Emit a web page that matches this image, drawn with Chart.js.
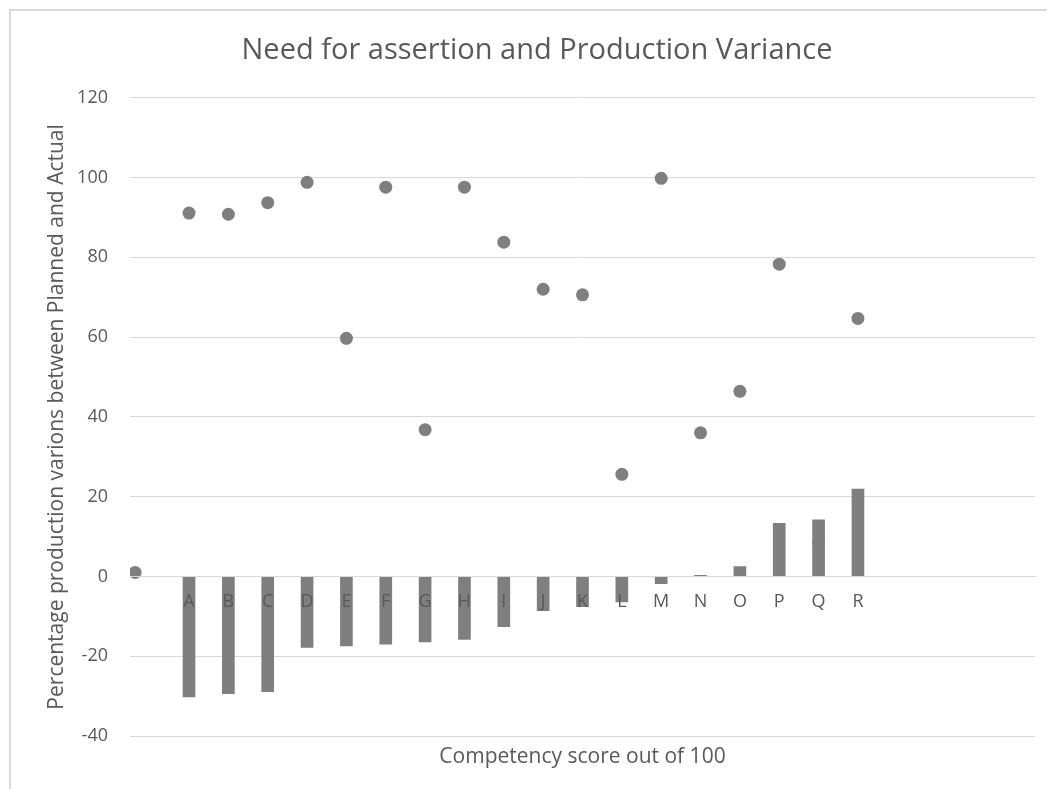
<!DOCTYPE html>
<html>
<head>
<meta charset="utf-8">
<script src="https://cdn.jsdelivr.net/npm/chart.js@4.4.1/dist/chart.umd.min.js"></script>
<style>
  html, body { margin: 0; padding: 0; background: #fff; overflow: hidden; }
  #frame {
    position: absolute; left: 9px; top: 9px; width: 1060px; height: 800px;
    border-left: 2px solid #d9d9d9; border-top: 2px solid #d9d9d9;
  }
  #wrap { position: absolute; left: 10px; top: 10px; width: 1054px; height: 779px; }
</style>
</head>
<body>
<div id="frame"></div>
<div id="wrap"><canvas id="chart"></canvas></div>
<script>
// categories on the axis (first and last slots are empty, as in the Excel sheet)
const categories = ["", "A", "B", "C", "D", "E", "F", "G", "H", "I", "J", "K", "L", "M", "N", "O", "P", "Q", "R", "", "", "", ""]

// production variance (bars), one per category
const variance = [null, -30.2, -29.4, -28.9, -17.8, -17.4, -17.0, -16.4, -15.8, -12.6, -8.6, -7.6, -6.4, -1.8, 0.3, 2.5, 13.3, 14.2, 21.9, null, null, null, null]

// need for assertion / competency score (dots), x in category slots
const assertionX = [-0.37, 1, 2, 3, 4, 5, 6, 7, 8, 9, 10, 11, 12, 13, 14, 15, 16, 17, 18]
const assertionY = [1, 91.1, 90.8, 93.7, 98.8, 59.7, 97.6, 36.8, 97.6, 83.8, 72.0, 70.6, 25.6, 99.8, 36.0, 46.4, 78.3, 8.5, 64.7]

const yTicks = { min: -40, max: 120, step: 20 }

const textColor = "#595959"
const gridColor = "#d9d9d9"
const markColor = "#7f7f7f"
const font = "Open Sans"

new Chart(document.getElementById("chart"), {
  type: "bar",
  data: {
    labels: categories,
    datasets: [
      {
        type: "bar",
        data: variance,
        backgroundColor: markColor,
        barThickness: 12,
        grouped: false,
        order: 0,
        xAxisID: "x",
        yAxisID: "y"
      },
      {
        type: "scatter",
        data: assertionX.map((x, i) => ({ x, y: assertionY[i] })),
        backgroundColor: markColor,
        borderWidth: 0,
        pointRadius: 6.5,
        showLine: false,
        order: 1,
        xAxisID: "x2",
        yAxisID: "y"
      }
    ]
  },
  options: {
    responsive: true,
    maintainAspectRatio: false,
    animation: false,
    layout: { padding: { left: 29, right: 29, top: 0, bottom: 0 } },
    plugins: {
      legend: { display: false },
      tooltip: { enabled: false },
      title: {
        display: true,
        text: "Need for assertion and Production Variance",
        color: textColor,
        font: { family: font, size: 29, weight: "normal" },
        padding: { top: 23, bottom: 30 }
      }
    },
    scales: {
      x: {
        type: "category",
        offset: true,
        position: { y: 0 },
        grid: { display: false, drawTicks: false },
        border: { display: true, color: gridColor, width: 1, z: 1 },
        ticks: { color: textColor, font: { family: font, size: 18 }, padding: 15, autoSkip: false, maxRotation: 0, z: 1 }
      },
      x2: {
        type: "linear",
        position: "bottom",
        offset: false,
        min: -0.5,
        max: 22.5,
        grid: { display: false, drawTicks: false },
        border: { display: false },
        ticks: { display: false },
        title: {
          display: true,
          text: "Competency score out of 100",
          color: textColor,
          font: { family: font, size: 21 },
          padding: { top: 0, bottom: 19 }
        },
        afterFit: (scale) => { scale.height = 53 }
      },
      y: {
        min: yTicks.min,
        max: yTicks.max,
        grid: { color: gridColor, drawTicks: false },
        border: { display: false },
        ticks: { stepSize: yTicks.step, color: textColor, font: { family: font, size: 18 }, padding: 22 },
        title: {
          display: true,
          text: "Percentage production varions between Planned and Actual",
          color: textColor,
          font: { family: font, size: 21 },
          padding: { top: 5, bottom: 0 }
        },
        afterFit: (scale) => { scale.width = 91 }
      }
    }
  }
})
</script>
</body>
</html>
